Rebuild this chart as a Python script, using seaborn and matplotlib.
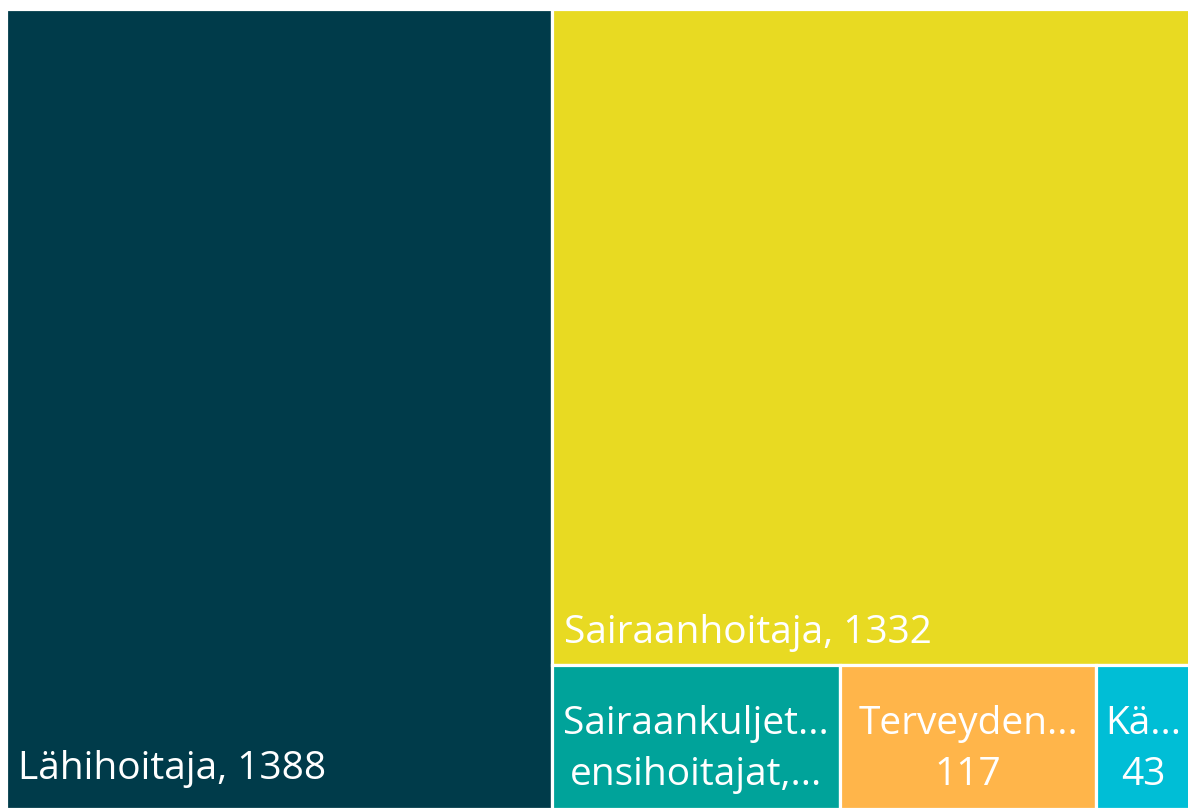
import matplotlib
matplotlib.use("Agg")
import matplotlib.pyplot as plt
from matplotlib.patches import Rectangle
import seaborn as sns

# Ammattiryhmät ja lukumäärät
ammatit = ["Lähihoitaja", "Sairaanhoitaja", "Sairaankuljettajat ja ensihoitajat",
           "Terveydenhoitaja", "Kätilö"]
maarat = [1388, 1332, 132, 117, 43]
# näkyvät (katkaistut) tekstit
tekstit = [["Lähihoitaja, 1388"], ["Sairaanhoitaja, 1332"],
           ["Sairaankuljet...", "ensihoitajat,..."], ["Terveyden...", "117"], ["Kä...", "43"]]
varit = ["#003B4A", "#E8DA22", "#00A39A", "#FFB54A", "#00BED6"]


def squarify(arvot, x, y, w, h):
    # yksinkertainen squarified-asettelu
    laatikot = []
    arvot = list(arvot)
    summa = sum(arvot)
    arvot = [a * w * h / summa for a in arvot]

    def huonoin(rivi, sivu):
        s = sum(rivi)
        return max(max(sivu * sivu * r / (s * s), s * s / (sivu * sivu * r)) for r in rivi)

    while arvot:
        sivu = min(w, h)
        rivi = [arvot[0]]
        i = 1
        while i < len(arvot) and huonoin(rivi + [arvot[i]], sivu) <= huonoin(rivi, sivu):
            rivi.append(arvot[i])
            i += 1
        arvot = arvot[i:]
        s = sum(rivi)
        if w >= h:
            leveys = s / h
            yy = y
            for r in rivi:
                laatikot.append((x, yy, leveys, r / leveys))
                yy += r / leveys
            x += leveys
            w -= leveys
        else:
            korkeus = s / w
            xx = x
            for r in rivi:
                laatikot.append((xx, y, r / korkeus, korkeus))
                xx += r / korkeus
            y += korkeus
            h -= korkeus
    return laatikot


sns.set_theme(style="white")
plt.rcParams["font.family"] = ["Open Sans", "DejaVu Sans"]

fig = plt.figure(figsize=(11.88, 8.08), dpi=100)
ax = fig.add_axes([0, 0, 1, 1])
ax.set_xlim(0, 1188)
ax.set_ylim(808, 0)
ax.axis("off")

laatikot = squarify(maarat, 6, 9, 1184, 800)
for (x, y, w, h), vari, teksti in zip(laatikot, varit, tekstit):
    ax.add_patch(Rectangle((x, y), w, h, facecolor=vari, edgecolor="white", linewidth=2.3))
    if len(teksti) == 1:
        ax.text(x + 12, y + h - 30 if y + h > 800 else y + h - 22, teksti[0], color="white",
                fontsize=28, ha="left", va="baseline")
    else:
        ax.text(x + w / 2, y + 69, teksti[0], color="white", fontsize=28, ha="center", va="baseline")
        ax.text(x + w / 2, y + 120, teksti[1], color="white", fontsize=28, ha="center", va="baseline")

fig.savefig("out.png", dpi=100)
